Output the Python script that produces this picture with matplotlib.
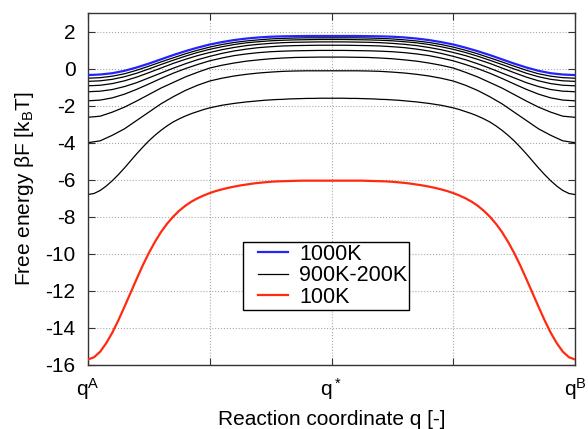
import numpy as np
import matplotlib
matplotlib.use("Agg")
import matplotlib.pyplot as plt
from matplotlib.legend_handler import HandlerLine2D

plt.rcParams['font.family'] = ['Liberation Sans', 'DejaVu Sans']
plt.rcParams['mathtext.default'] = 'regular'
plt.rcParams['axes.unicode_minus'] = False

q_half = [0, 0.025, 0.05, 0.075, 0.1, 0.125, 0.15, 0.175, 0.2, 0.225, 0.25,
          0.275, 0.3, 0.325, 0.35, 0.375, 0.4, 0.425, 0.45, 0.475, 0.5]
# finer reading for the steep low-temperature curves
q_fine = [0, 0.0125, 0.025, 0.0375, 0.05, 0.0625, 0.075, 0.0875, 0.1, 0.1125,
          0.125, 0.1375, 0.15, 0.1625, 0.175, 0.1875, 0.2, 0.2125, 0.225, 0.2375,
          0.25, 0.2625, 0.275, 0.2875, 0.3, 0.3125, 0.325, 0.3375, 0.35, 0.3625,
          0.375, 0.3875, 0.4, 0.4125, 0.425, 0.4375, 0.45, 0.4625, 0.475, 0.4875, 0.5]

F_1000 = [-0.35, -0.32, -0.25, -0.12, 0.06, 0.27, 0.5, 0.73, 0.94, 1.13, 1.3,
          1.43, 1.54, 1.62, 1.68, 1.72, 1.74, 1.75, 1.76, 1.76, 1.76]
F_900 = [-0.52, -0.49, -0.41, -0.28, -0.09, 0.13, 0.36, 0.58, 0.8, 0.99, 1.16,
         1.3, 1.41, 1.49, 1.55, 1.6, 1.63, 1.65, 1.66, 1.66, 1.66]
F_800 = [-0.69, -0.66, -0.58, -0.44, -0.25, -0.02, 0.22, 0.45, 0.67, 0.87, 1.04,
         1.18, 1.3, 1.39, 1.45, 1.5, 1.53, 1.55, 1.56, 1.57, 1.57]
F_700 = [-0.93, -0.9, -0.81, -0.66, -0.46, -0.22, 0.03, 0.28, 0.5, 0.7, 0.87,
         1.02, 1.14, 1.24, 1.31, 1.36, 1.4, 1.42, 1.43, 1.44, 1.44]
F_600 = [-1.25, -1.22, -1.13, -0.97, -0.76, -0.5, -0.24, 0.02, 0.26, 0.48, 0.66,
         0.82, 0.95, 1.05, 1.13, 1.18, 1.22, 1.24, 1.25, 1.26, 1.26]
F_500 = [-1.74, -1.7, -1.58, -1.38, -1.12, -0.83, -0.53, -0.25, 0.0, 0.22, 0.42,
         0.57, 0.7, 0.79, 0.86, 0.91, 0.94, 0.96, 0.97, 0.98, 0.98]
F_400 = [-2.63, -2.57, -2.35, -2.08, -1.75, -1.4, -1.05, -0.75, -0.45, -0.2, 0.03,
         0.18, 0.3, 0.4, 0.47, 0.53, 0.57, 0.6, 0.61, 0.62, 0.62]
F_300 = [-4.0, -3.9, -3.6, -3.25, -2.8, -2.35, -1.9, -1.52, -1.18, -0.9, -0.67,
         -0.52, -0.4, -0.31, -0.24, -0.19, -0.15, -0.13, -0.12, -0.12, -0.12]
F_200 = [-6.8, -6.74, -6.58, -6.34, -6.05, -5.72, -5.36, -4.98, -4.6, -4.24,
         -3.9, -3.6, -3.33, -3.09, -2.88, -2.71, -2.56, -2.43, -2.32, -2.21,
         -2.12, -2.05, -1.98, -1.93, -1.88, -1.84, -1.8, -1.77, -1.74, -1.71,
         -1.69, -1.67, -1.66, -1.64, -1.63, -1.62, -1.61, -1.61, -1.6, -1.6, -1.6]
F_100 = [-15.7, -15.58, -15.28, -14.82, -14.25, -13.58, -12.85, -12.1, -11.35, -10.62,
         -9.95, -9.35, -8.82, -8.37, -7.99, -7.67, -7.4, -7.18, -7.0, -6.85,
         -6.72, -6.61, -6.52, -6.44, -6.37, -6.31, -6.26, -6.21, -6.17, -6.14,
         -6.11, -6.09, -6.08, -6.07, -6.06, -6.05, -6.05, -6.05, -6.05, -6.05, -6.05]

black_curves = [(q_half, F_900), (q_half, F_800), (q_half, F_700), (q_half, F_600),
                (q_half, F_500), (q_half, F_400), (q_half, F_300), (q_fine, F_200)]

xtick_pos = [0, 0.25, 0.5, 0.75, 1]
xtick_labels = ['q$^A$', '', 'q$^*$', '', 'q$^B$']
yticks = list(range(-16, 3, 2))


def mirror(qs, vals):
    # reflect the half profile onto q* .. q^B
    qs = np.asarray(qs)
    vals = np.asarray(vals)
    return np.concatenate([qs, 1 - qs[-2::-1]]), np.concatenate([vals, vals[-2::-1]])


class InsetLine(HandlerLine2D):
    # legend line that starts a bit in from the frame, like gnuplot's key
    def create_artists(self, legend, orig_handle, xdescent, ydescent,
                       width, height, fontsize, trans):
        arts = super().create_artists(legend, orig_handle, xdescent, ydescent,
                                      width, height, fontsize, trans)
        for a in arts:
            xd = np.asarray(a.get_xdata(), dtype=float)
            if len(xd) >= 2:
                x0, x1 = xd.min(), xd.max()
                a.set_xdata(x0 + 0.3 * (x1 - x0) + (xd - x0) * 0.7)
        return arts


fig = plt.figure(figsize=(5.88, 4.29), dpi=100)
ax = fig.add_axes([88 / 588, 1 - 365 / 429, 487 / 588, 352 / 429])

for i, (qs, F) in enumerate(black_curves):
    x, y = mirror(qs, F)
    ax.plot(x, y, color='black', lw=0.9,
            label='900K-200K' if i == 0 else None, zorder=2)
x, y = mirror(q_half, F_1000)
ax.plot(x, y, color='#2323ff', lw=1.6, label='1000K', zorder=3)
x, y = mirror(q_fine, F_100)
ax.plot(x, y, color='#ff2a0f', lw=1.6, label='100K', zorder=3)

ax.set_xlim(0, 1)
ax.set_ylim(-16, 3)
ax.set_yticks(yticks)
ax.set_xticks(xtick_pos)
ax.set_xticklabels(xtick_labels)
ax.grid(True, color='#aaaaaa', ls=':', lw=0.8)
ax.tick_params(direction='in', length=5, top=True, right=True, labelsize=15, color='#333333')
ax.tick_params(axis='y', pad=9)
ax.tick_params(axis='x', pad=8)
for s in ax.spines.values():
    s.set_color('#333333')
    s.set_linewidth(1.0)

ax.set_ylabel('Free energy βF [k$_B$T]', fontsize=15, labelpad=7)
ax.set_xlabel('Reaction coordinate q [-]', fontsize=15, labelpad=6)

h, l = ax.get_legend_handles_labels()
order = [l.index('1000K'), l.index('900K-200K'), l.index('100K')]
leg = ax.legend([h[i] for i in order], [l[i] for i in order],
                loc='center', bbox_to_anchor=(0.489, 0.254), fontsize=15.5,
                fancybox=False, framealpha=1, edgecolor='black',
                handlelength=2.0, borderpad=0.1, labelspacing=0.02, handletextpad=0.5,
                borderaxespad=0, handler_map={matplotlib.lines.Line2D: InsetLine()})
leg.get_frame().set_linewidth(1.0)

fig.savefig('out.png', dpi=100)
